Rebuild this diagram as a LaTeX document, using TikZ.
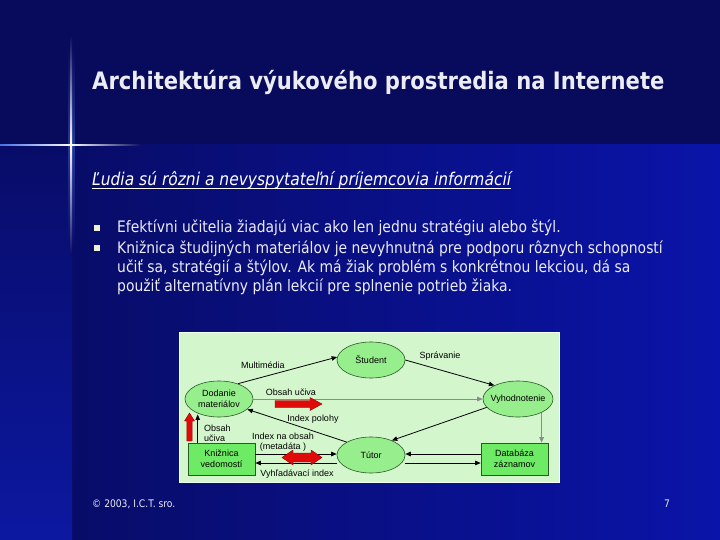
\documentclass[tikz,border=0pt]{standalone}
\usepackage{fontspec}
\setmainfont{DejaVu Sans}[FakeStretch=0.88]
\newfontfamily\diagfont{Liberation Sans}
\usetikzlibrary{shapes.geometric,arrows.meta,calc}
\definecolor{bgtop}{RGB}{8,10,92}
\definecolor{bgmid}{RGB}{8,12,104}
\definecolor{bgright}{RGB}{10,20,168}
\definecolor{stripbot}{RGB}{12,24,160}
\definecolor{glowblue}{RGB}{70,110,230}
\definecolor{paneG}{RGB}{212,246,204}
\definecolor{ellG}{RGB}{150,238,140}
\definecolor{boxG}{RGB}{110,235,100}
\definecolor{lineG}{RGB}{40,90,40}
\definecolor{txtW}{RGB}{236,236,244}
\definecolor{bulC}{RGB}{240,240,215}
\definecolor{redA}{RGB}{225,10,10}
\definecolor{redD}{RGB}{150,0,0}
\begin{document}
\begin{tikzpicture}[x=1pt,y=-1pt,
  ell/.style={ellipse, draw=lineG, fill=ellG, minimum width=68pt, minimum height=36pt, inner sep=0pt, line width=0.6pt},
  dbox/.style={rectangle, draw=lineG, fill=boxG, minimum width=67pt, minimum height=32pt, inner sep=0pt, line width=0.6pt, align=center, font=\diagfont\fontsize{9}{11}\selectfont},
  dtext/.style={font=\diagfont\fontsize{9}{11}\selectfont, inner sep=0pt, align=center},
  dlab/.style={font=\diagfont\fontsize{9}{10}\selectfont, inner sep=0pt, text=black},
  arr/.style={draw=black, line width=0.8pt, -{Triangle[length=5.5pt,width=4.5pt]}},
  garr/.style={draw=black!45, line width=0.8pt, -{Triangle[length=5.5pt,width=4.5pt]}},
  bul/.style={rectangle, fill=bulC, minimum size=5.5pt, inner sep=0pt},
  body/.style={anchor=base west, inner sep=0pt, text=txtW, font=\fontsize{15.8}{19}\selectfont},
  redarrow/.style={fill=redA, draw=redD, line width=0.4pt}
]
\useasboundingbox (0,0) rectangle (720,540);
% background
\fill[bgtop] (0,0) rectangle (720,145);
\shade[left color=bgmid, right color=bgright] (72,145) rectangle (720,540);
\shade[top color=bgmid, bottom color=stripbot] (0,145) rectangle (72,540);
% glow cross
\shade[top color=bgtop, bottom color=bgmid, middle color=glowblue, opacity=0.45] (68.4,45) rectangle (74.4,245);
\shade[top color=bgtop, bottom color=bgmid, middle color=white] (70.6,35) rectangle (72.2,255);
\shade[left color=glowblue, right color=bgtop, middle color=white] (0,144.2) rectangle (142,145.8);
% title
\node[anchor=base west, inner sep=0pt, text=txtW, font=\bfseries\fontsize{24}{28}\selectfont] (title) at (92,90) {Architektúra výukového prostredia na Internete};
% subtitle
\node[anchor=base west, inner sep=0pt, text=white, font=\itshape\fontsize{17.6}{20}\selectfont] (sub) at (92,186) {Ľudia sú rôzni a nevyspytateľní príjemcovia informácií};
\draw[white, line width=1.2pt] ([yshift=-2.8pt]sub.base west) -- ([yshift=-2.8pt]sub.base east);
% bullets
\node[bul] (b1) at (97,228) {};
\node[bul] (b2) at (97,248) {};
\node[body] (l1) at (117,233) {Efektívni učitelia žiadajú viac ako len jednu stratégiu alebo štýl.};
\node[body] (l2) at (117,253) {Knižnica študijných materiálov je nevyhnutná pre podporu rôznych schopností};
\node[body] (l3) at (117,272) {učiť sa, stratégií a štýlov. Ak má žiak problém s konkrétnou lekciou, dá sa};
\node[body] (l4) at (117,291) {použiť alternatívny plán lekcií pre splnenie potrieb žiaka.};
% diagram pane
\draw[draw=white!75!paneG, fill=paneG, line width=1pt] (179,332) rectangle (559,482);
\node[ell, label={[dtext]center:Študent}] (stu) at (371,360) {};
\node[ell, label={[dtext]center:Dodanie\\materiálov}] (dod) at (219,399) {};
\node[ell, minimum width=70pt, label={[dtext]center:Vyhodnotenie}] (vyh) at (518,399) {};
\node[ell, label={[dtext]center:Tútor}] (tut) at (371,455) {};
\node[dbox] (knz) at (221.5,459) {Knižnica\\vedomostí};
\node[dbox] (dat) at (514.5,459) {Databáza\\záznamov};
% connectors
\draw[arr] (dod.39) -- (stu.175);
\draw[arr] (stu.east) -- (vyh.150);
\draw[garr] (dod.east) -- (vyh.west);
\draw[arr] (tut.152) -- (dod.-20);
\draw[arr] (vyh.195) -- (tut.35);
\draw[garr] (vyh.-30) -- (vyh.-30 |- dat.north);
\draw[arr] ([yshift=5pt]dat.west) -- ([yshift=5pt]dat.west -| tut.east);
\draw[arr] ([yshift=-4pt]dat.west -| tut.east) -- ([yshift=-4pt]dat.west);
\draw[arr] ([yshift=5pt]knz.east) -- ([yshift=5pt]knz.east -| tut.west);
\draw[arr] ([yshift=-4pt]knz.east -| tut.west) -- ([yshift=-4pt]knz.east);
\draw[arr] ([xshift=10pt]knz.north west) -- ([xshift=10pt]knz.north west |- dod.-140);
% red block arrows
\draw[redarrow] (275,400.5) -- (310,400.5) -- (310,397.5) -- (322,404) -- (310,410.5) -- (310,407.5) -- (275,407.5) -- cycle;
\draw[redarrow] (282,457.5) -- (293,450) -- (293,453) -- (311,453) -- (311,450) -- (322,457.5) -- (311,465) -- (311,462) -- (293,462) -- (293,465) -- cycle;
\draw[redarrow] (186.8,441) -- (186.8,421) -- (184.5,421) -- (189.5,413) -- (194.5,421) -- (192.2,421) -- (192.2,441) -- cycle;
% labels
\node[dlab] (lm) at (263,365) {Multimédia};
\node[dlab] (ls) at (440,356) {Správanie};
\node[dlab] (lo) at (291,392) {Obsah učiva};
\node[dlab] (lp) at (313,419) {Index polohy};
\node[dlab, align=left, anchor=west] (lo2) at (204,433) {Obsah\\učiva};
\node[dlab, align=center] (li) at (283,442.5) {Index na obsah\\(metadáta )};
\node[dlab] (lv) at (297,474) {Vyhľadávací index};
% footer
\node[anchor=base west, inner sep=0pt, text=txtW, font=\fontsize{10.4}{12}\selectfont] (foot) at (92,507) {© 2003, I.C.T. sro.};
\node[anchor=base west, inner sep=0pt, text=txtW, font=\fontsize{10.4}{12}\selectfont] (pg) at (664,507) {7};
\end{tikzpicture}
\end{document}
